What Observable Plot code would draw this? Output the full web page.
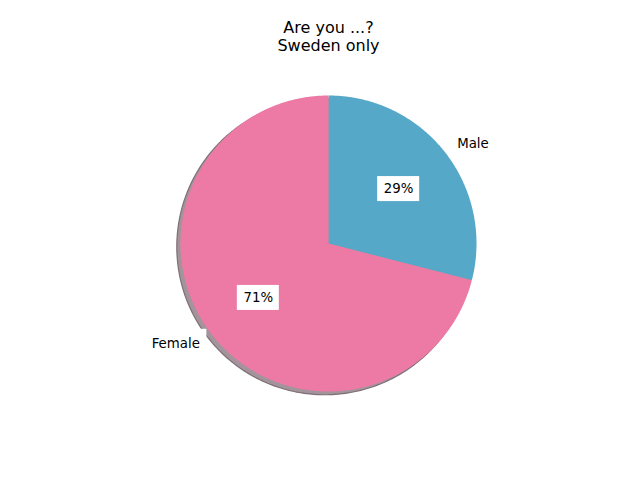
<!DOCTYPE html>
<html><head><meta charset="utf-8">
<script src="https://cdn.jsdelivr.net/npm/d3@7"></script>
<script src="https://cdn.jsdelivr.net/npm/@observablehq/plot@0.6"></script>
<style>body{margin:0;background:#fff}</style>
</head><body><div id="chart"></div>
<script>
const title = "Are you ...?";
const subtitle = "Sweden only";
const labels = ["Male", "Female"];
const values = [29, 71];
const colors = ["#55a8c8", "#ec7aa4"];

const total = d3.sum(values);
const arcs = d3.pie().sort(null).value(d => d)(values);

const slices = [];
const nameLabels = [];
const pctLabels = [];
arcs.forEach((a, i) => {
  slices.push({label: labels[i], x: 0, y: 0});
  const n = Math.max(2, Math.ceil((a.endAngle - a.startAngle) / (Math.PI / 360)));
  for (let k = 0; k <= n; k++) {
    const t = a.startAngle + (a.endAngle - a.startAngle) * k / n;
    slices.push({label: labels[i], x: Math.sin(t), y: Math.cos(t)});
  }
  const m = (a.startAngle + a.endAngle) / 2;
  const lx = 1.1 * Math.sin(m), ly = 1.1 * Math.cos(m);
  nameLabels.push({label: labels[i], x: lx, y: ly, anchor: lx > 0 ? "start" : "end"});
  pctLabels.push({text: d3.format(".0f")(values[i] / total * 100) + "%", x: 0.6 * Math.sin(m), y: 0.6 * Math.cos(m)});
});

const shadowDx = -0.025, shadowDy = -0.022;
const shadow = d3.range(0, 361, 1).map(d => ({
  x: Math.sin(d * Math.PI / 180) + shadowDx,
  y: Math.cos(d * Math.PI / 180) + shadowDy
}));

const chart = Plot.plot({
  width: 640, height: 480,
  marginLeft: 180, marginRight: 164, marginTop: 95, marginBottom: 89,
  x: {domain: [-1, 1], axis: null},
  y: {domain: [-1, 1], axis: null},
  color: {domain: labels, range: colors},
  style: {fontFamily: "DejaVu Sans", fontSize: "13.33px", background: "white", color: "black"},
  marks: [
    Plot.line(shadow, {x: "x", y: "y", fill: "#a3949b", stroke: "#7f6f76", strokeWidth: 1.2, curve: "linear-closed"}),
    Plot.rect(nameLabels, {filter: d => d.anchor === "end", x1: "x", x2: "x", y1: "y", y2: "y", fill: "white", insetLeft: -57, insetRight: -7, insetTop: -14, insetBottom: -14}),
    Plot.rect(nameLabels, {filter: d => d.anchor === "start", x1: "x", x2: "x", y1: "y", y2: "y", fill: "white", insetLeft: -7, insetRight: -39, insetTop: -14, insetBottom: -14}),
    Plot.line(slices, {x: "x", y: "y", z: "label", fill: "label", stroke: "none", curve: "linear-closed"}),
    Plot.rect(pctLabels, {x1: "x", x2: "x", y1: "y", y2: "y", fill: "white", insetLeft: -21, insetRight: -21, insetTop: -12.5, insetBottom: -12.5}),
    Plot.text(pctLabels, {x: "x", y: "y", text: "text", fill: "black"}),
    Plot.text(nameLabels.filter(d => d.anchor === "start"), {x: "x", y: "y", text: "label", textAnchor: "start", fill: "black"}),
    Plot.text(nameLabels.filter(d => d.anchor === "end"), {x: "x", y: "y", text: "label", textAnchor: "end", fill: "black"}),
    Plot.text([title + "\n" + subtitle], {frameAnchor: "top", text: d => d, lineAnchor: "top", dy: -75, fontSize: 16, lineHeight: 1.1, fill: "black"})
  ]
});
document.getElementById("chart").appendChild(chart);
</script>
</body></html>
